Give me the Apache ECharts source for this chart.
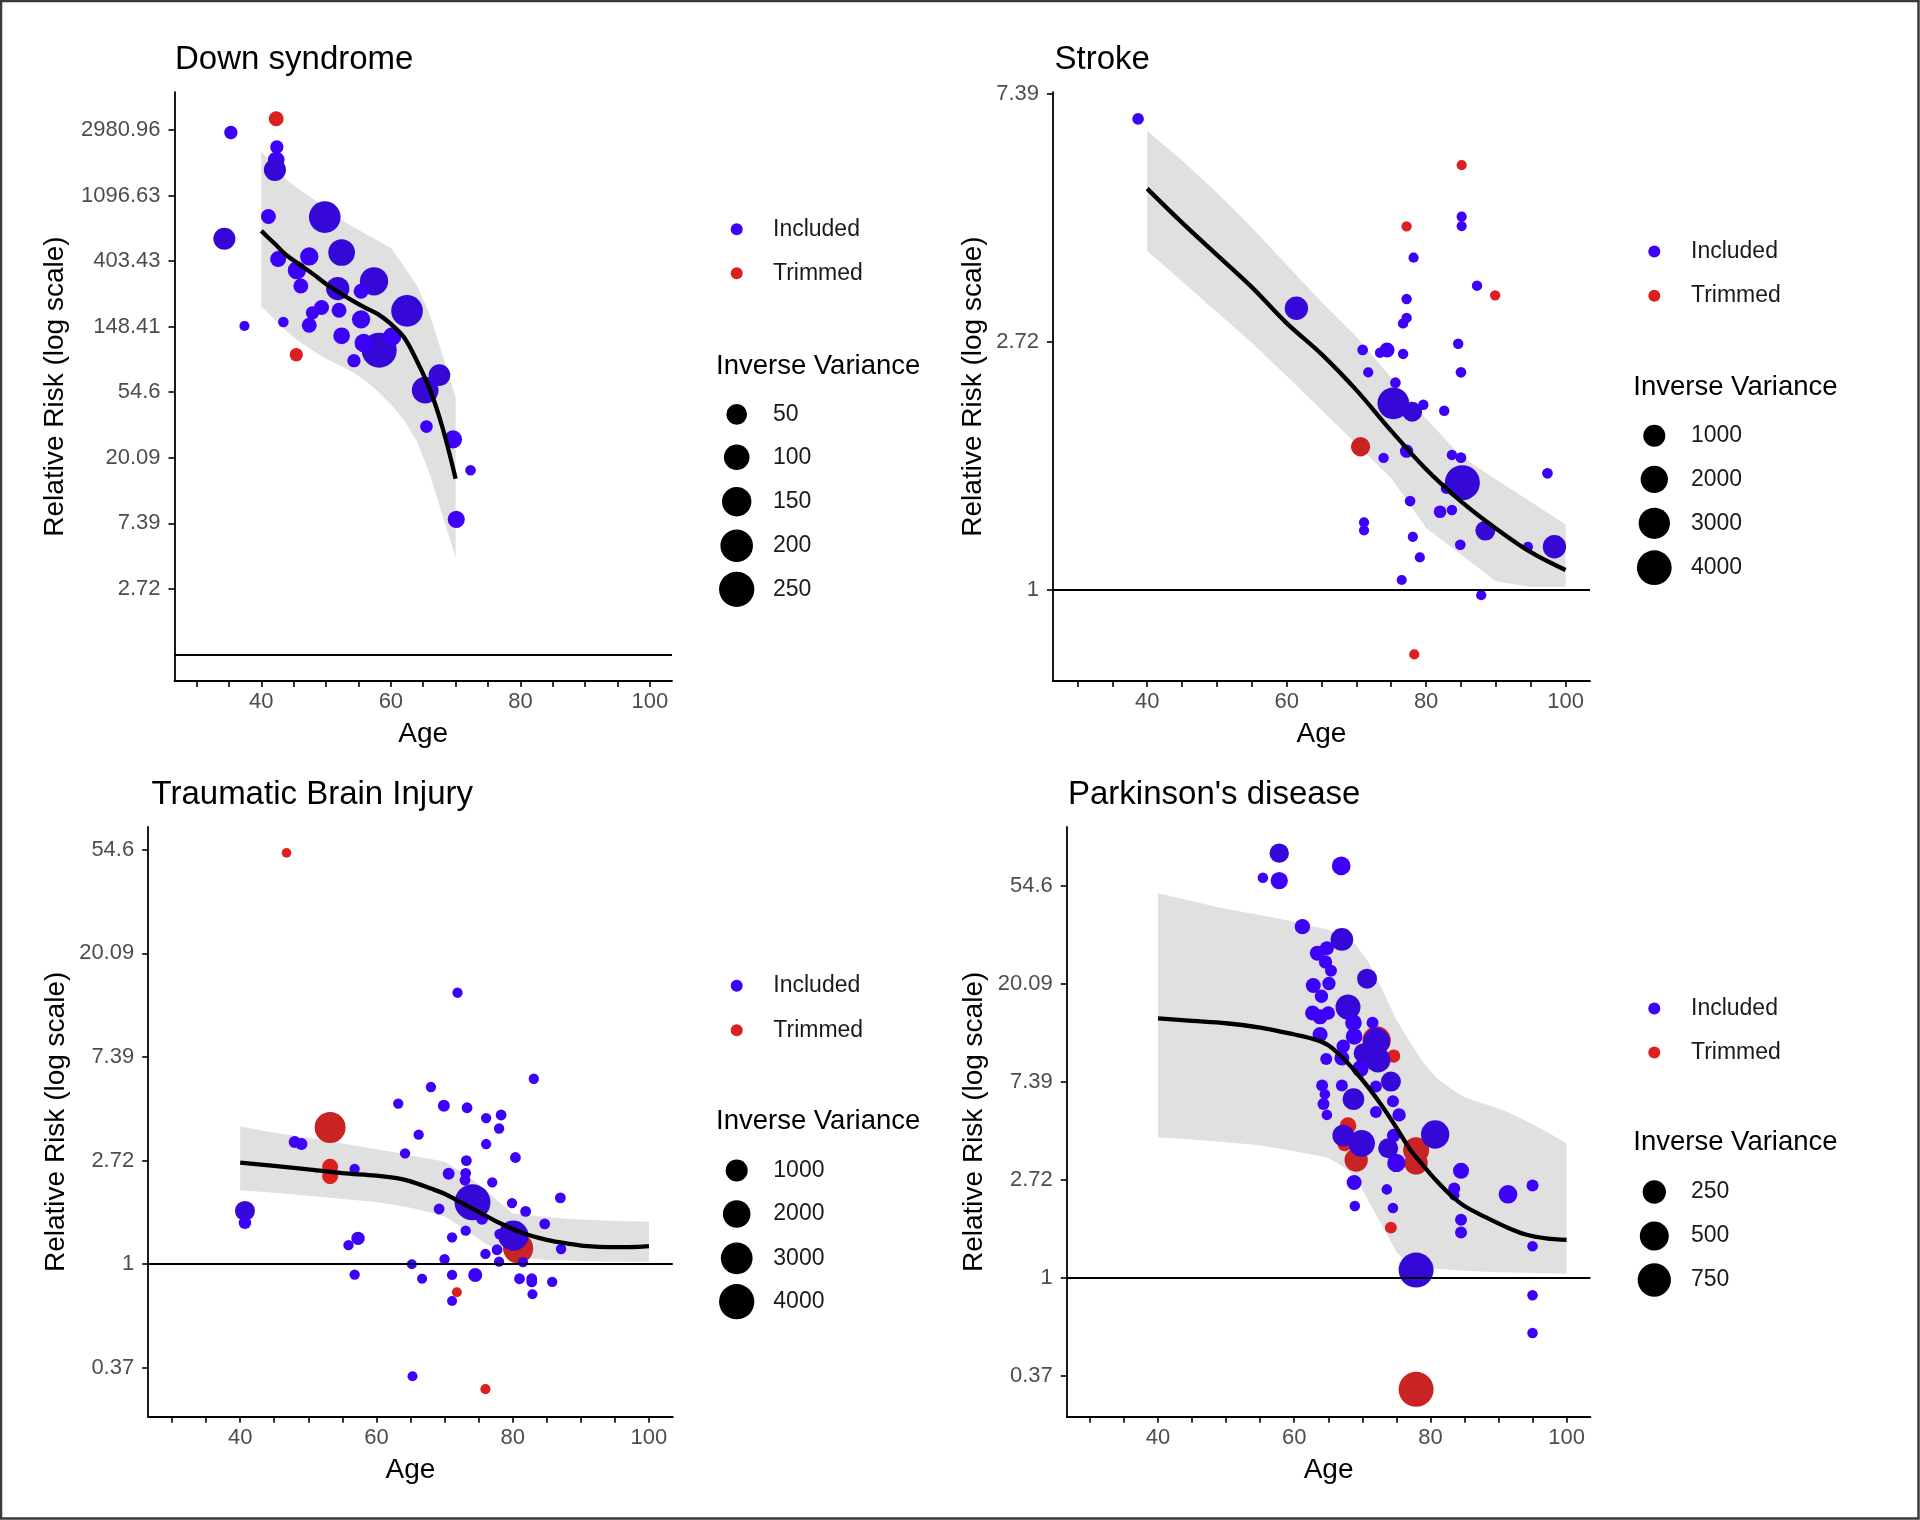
<!DOCTYPE html>
<html>
<head>
<meta charset="utf-8">
<script src="https://cdn.jsdelivr.net/npm/echarts@6/dist/echarts.min.js"></script>
<style>html,body{margin:0;padding:0;background:#fff}#c{width:1920px;height:1520px}</style>
</head>
<body>
<div id="c"></div>
<script>
// ---------------- DATA (age, ln(relative risk), inverse variance) ----------------
const ageTicks = [30,35,40,45,50,55,60,65,70,75,80,85,90,95,100];
const ageLabels = [40,60,80,100];

// Down syndrome
const downLogTicks = [1,2,3,4,5,6,7,8];
const downIncluded = [[35.3,7.96,7],[42.4,7.74,7],[42.3,7.54,22],[42.1,7.39,62],[41.1,6.68,13],[34.3,6.34,62],[49.8,6.67,186],[52.4,6.13,113],[42.6,6.03,18],[47.4,6.07,32],[45.5,5.86,32],[46.1,5.62,13],[51.8,5.58,74],[57.4,5.69,135],[55.4,5.54,13],[52.0,5.25,13],[49.3,5.29,13],[47.9,5.21,7],[47.4,5.02,13],[43.4,5.07,1],[37.4,5.01,0.5],[62.5,5.24,186],[55.4,5.11,32],[52.4,4.86,22],[58.2,4.64,244],[55.8,4.75,32],[60.2,4.85,32],[54.3,4.48,7],[67.5,4.26,58],[65.3,4.03,113],[65.5,3.475,5],[69.6,3.28,30],[72.3,2.81,1],[70.1,2.06,24]];
const downTrimmed = [[42.3,8.17,13],[45.4,4.57,7]];
const downFitAge = [40,42,44,46,48,50,52,54,56,58,60,62,64,66,68,70];
const downFit   = [6.46,6.27,6.08,5.94,5.80,5.65,5.52,5.40,5.29,5.19,5.04,4.84,4.48,4.05,3.45,2.68];
const downUpper = [7.67,7.45,7.23,7.08,6.95,6.79,6.65,6.53,6.42,6.31,6.20,5.92,5.63,5.19,4.56,3.92];
const downLower = [5.31,5.11,4.92,4.76,4.63,4.51,4.41,4.31,4.18,4.01,3.81,3.58,3.25,2.75,2.11,1.48];
const downSizeBreaks = [50,100,150,200,250];

// Stroke
const strokeLogTicks = [0,1,2];
const strokeIncluded = [[61.4,1.135,1213],[85.1,1.504,5],[85.1,1.466,5],[78.2,1.339,5],[87.3,1.226,8],[77.2,1.172,8],[77.2,1.096,8],[76.7,1.074,8],[84.6,0.992,8],[70.9,0.967,12],[74.4,0.967,200],[73.4,0.956,8],[76.7,0.951,8],[71.7,0.877,5],[85.0,0.877,12],[75.6,0.835,12],[75.3,0.752,3100],[78.0,0.718,700],[79.6,0.746,8],[82.6,0.722,8],[73.9,0.532,8],[77.2,0.559,100],[83.7,0.544,8],[85.0,0.533,12],[82.9,0.409,20],[85.2,0.432,4090],[97.4,0.470,12],[77.7,0.358,12],[82.0,0.315,70],[83.7,0.322,8],[88.5,0.239,700],[71.1,0.272,5],[71.1,0.240,5],[78.1,0.214,5],[84.9,0.182,12],[94.6,0.174,5],[98.4,0.174,1213],[79.1,0.131,5],[76.5,0.040,5],[87.9,-0.021,5],[38.7,1.898,33]];
const strokeTrimmed = [[85.1,1.712,5],[77.2,1.465,8],[89.9,1.187,8],[70.6,0.577,620],[78.3,-0.260,5]];
const strokeFitAge = [40,45,50,55,60,65,70,75,80,85,90,95,100];
const strokeFit   = [1.617,1.48,1.35,1.22,1.075,0.95,0.805,0.641,0.486,0.357,0.248,0.152,0.080];
const strokeUpper = [1.850,1.73,1.60,1.46,1.31,1.16,1.02,0.855,0.69,0.54,0.445,0.355,0.264];
const strokeLower = [1.367,1.243,1.12,0.996,0.862,0.725,0.588,0.45,0.25,0.143,0.035,0.012,0.012];
const strokeSizeBreaks = [1000,2000,3000,4000];

// Traumatic Brain Injury
const tbiLogTicks = [-1,0,1,2,3,4];
const tbiIncluded = [[71.9,2.62,15],[83.1,1.79,15],[68.0,1.71,15],[63.2,1.55,15],[69.9,1.53,60],[73.3,1.51,25],[76.1,1.41,15],[78.3,1.44,25],[78.0,1.31,15],[66.2,1.25,15],[48.0,1.18,60],[49.0,1.16,60],[76.1,1.16,15],[64.2,1.07,15],[80.4,1.03,25],[73.2,1.00,25],[56.8,0.92,15],[70.6,0.874,60],[73.1,0.877,25],[73.0,0.81,25],[77.0,0.79,15],[87.0,0.64,25],[69.2,0.533,25],[79.9,0.59,15],[81.9,0.51,25],[75.5,0.44,60],[84.7,0.39,25],[73.1,0.324,15],[71.1,0.26,15],[78.1,0.291,25],[77.7,0.14,25],[87.1,0.147,15],[76.0,0.10,15],[70.0,0.048,15],[65.2,0.0,10],[78.0,0.025,15],[81.5,0.02,15],[74.5,-0.103,160],[71.1,-0.103,15],[66.7,-0.14,10],[81.0,-0.14,25],[82.8,-0.14,25],[82.8,-0.17,25],[85.8,-0.17,15],[82.9,-0.29,10],[71.1,-0.355,10],[65.3,-1.08,10],[40.7,0.515,720],[40.7,0.40,80],[55.9,0.184,15],[57.3,0.25,125],[56.8,-0.10,15],[74.1,0.598,4200],[80.1,0.276,2600]];
const tbiTrimmed = [[46.8,3.97,5],[53.2,1.32,2800],[53.2,0.94,300],[53.2,0.85,300],[80.8,0.154,2600],[71.8,-0.27,10],[76.0,-1.205,10]];
const tbiFitAge = [40,45,50,55,60,63,65,68,70,72,74,76,78,80,82,85,88,91,94,97,100];
const tbiFit   = [0.98,0.95,0.915,0.88,0.855,0.83,0.80,0.73,0.68,0.61,0.54,0.47,0.40,0.34,0.29,0.235,0.20,0.175,0.165,0.165,0.174];
const tbiUpper = [1.33,1.27,1.22,1.165,1.11,1.075,1.05,1.015,0.99,0.91,0.82,0.72,0.60,0.49,0.475,0.455,0.44,0.43,0.42,0.415,0.41];
const tbiLower = [0.713,0.69,0.66,0.63,0.60,0.57,0.545,0.50,0.46,0.38,0.29,0.20,0.13,0.09,0.06,0.041,0.035,0.03,0.027,0.025,0.025];
const tbiSizeBreaks = [1000,2000,3000,4000];

// Parkinson's disease
const pdLogTicks = [-1,0,1,2,3,4];
const pdIncluded = [[57.8,4.33,125],[66.9,4.20,108],[55.4,4.08,1],[57.8,4.05,78],[61.2,3.58,43],[67.0,3.45,226],[63.4,3.31,38],[64.8,3.36,25],[64.6,3.22,18],[65.4,3.13,7],[70.7,3.05,143],[62.8,2.98,38],[65.1,3.00,18],[64.0,2.87,18],[67.9,2.76,315],[62.7,2.70,38],[65.0,2.70,18],[63.8,2.66,38],[68.7,2.60,65],[71.5,2.60,7],[63.8,2.48,38],[68.8,2.46,65],[72.1,2.41,388],[67.2,2.36,18],[70.2,2.29,143],[72.3,2.22,315],[67.0,2.24,38],[64.7,2.23,7],[69.7,2.13,65],[74.2,2.00,143],[64.1,1.96,7],[67.0,1.96,7],[72.0,1.95,7],[64.5,1.87,1],[68.7,1.82,193],[64.3,1.77,7],[74.5,1.80,7],[72.0,1.69,7],[64.8,1.66,1],[75.4,1.66,18],[67.2,1.45,193],[69.9,1.37,388],[74.6,1.45,18],[73.8,1.32,143],[75.0,1.17,100],[80.7,1.46,467],[84.5,1.09,53],[91.4,0.85,108],[95.0,0.94,7],[83.5,0.91,7],[83.5,0.84,1],[68.8,0.97,38],[73.6,0.90,1],[68.9,0.73,1],[74.5,0.71,1],[84.5,0.59,7],[84.5,0.46,7],[95.0,0.32,1],[77.9,0.077,861],[95.0,-0.18,1],[95.0,-0.565,1]];
const pdTrimmed = [[72.1,2.42,467],[74.6,2.26,18],[67.9,1.55,65],[67.4,1.36,25],[69.1,1.20,250],[77.9,1.30,357],[77.9,1.17,250],[74.2,0.51,7],[77.9,-1.14,861]];
const pdFitAge = [40,45,50,55,60,63,65,67,69,71,73,75,77,79,81,83,85,88,91,94,97,100];
const pdFit   = [2.645,2.62,2.595,2.55,2.48,2.43,2.37,2.25,2.10,1.93,1.74,1.53,1.31,1.14,0.98,0.84,0.73,0.62,0.52,0.44,0.40,0.385];
const pdUpper = [3.92,3.84,3.76,3.70,3.63,3.58,3.55,3.48,3.40,3.21,2.93,2.63,2.40,2.19,2.03,1.93,1.84,1.77,1.70,1.60,1.49,1.37];
const pdLower = [1.43,1.41,1.38,1.35,1.29,1.25,1.22,1.14,1.03,0.77,0.52,0.26,0.13,0.10,0.09,0.08,0.07,0.06,0.055,0.05,0.045,0.04];
const pdSizeBreaks = [250,500,750];

const panelTitles = ['Down syndrome','Stroke','Traumatic Brain Injury',"Parkinson's disease"];

// ---------------- LAYOUT / STYLE ----------------
const FONT = "'Liberation Sans', Arial, sans-serif";
const panels = [
  {title:panelTitles[0], inc:downIncluded, trim:downTrimmed, fitAge:downFitAge, fit:downFit, up:downUpper, lo:downLower, yTicks:downLogTicks, breaks:downSizeBreaks,
   grid:{left:174.5, top:92.1, width:497.5, height:588.9}, x:[26.6,103.4], y:[-0.405,8.576], nameGap:105,
   size:w=>8.9+1.67*Math.sqrt(w), titlePos:[175,43],
   leg:{cx:736.7, tx:773, inc:226.7, trim:270.7, tl:716, tt:352, sy:[413.3,457.3,501.7,545.7,589.3]}},
  {title:panelTitles[1], inc:strokeIncluded, trim:strokeTrimmed, fitAge:strokeFitAge, fit:strokeFit, up:strokeUpper, lo:strokeLower, yTicks:strokeLogTicks, breaks:strokeSizeBreaks,
   grid:{left:1053, top:92.1, width:537, height:588.9}, x:[26.5,103.5], y:[-0.367,2.006], nameGap:65.5,
   size:w=>9.3+0.402*Math.sqrt(w), titlePos:[1054.5,43],
   leg:{cx:1654.3, tx:1691, inc:249, trim:293.3, tl:1633.3, tt:373, sy:[435.3,479.3,523.3,567.7]}},
  {title:panelTitles[2], inc:tbiIncluded, trim:tbiTrimmed, fitAge:tbiFitAge, fit:tbiFit, up:tbiUpper, lo:tbiLower, yTicks:tbiLogTicks, breaks:tbiSizeBreaks,
   grid:{left:148.2, top:826.9, width:524.6, height:589.9}, x:[26.5,103.5], y:[-1.472,4.22], nameGap:78,
   size:w=>8.7+0.421*Math.sqrt(w), titlePos:[151.5,778],
   leg:{cx:736.7, tx:773.3, inc:983.3, trim:1027.7, tl:716, tt:1107.5, sy:[1170,1214,1258.3,1301.7]}},
  {title:panelTitles[3], inc:pdIncluded, trim:pdTrimmed, fitAge:pdFitAge, fit:pdFit, up:pdUpper, lo:pdLower, yTicks:pdLogTicks, breaks:pdSizeBreaks,
   grid:{left:1066.8, top:826.9, width:523.6, height:589.9}, x:[26.6,103.5], y:[-1.42,4.598], nameGap:79,
   size:w=>9.7+0.862*Math.sqrt(w), titlePos:[1068,778],
   leg:{cx:1654.3, tx:1691, inc:1006, trim:1050, tl:1633.3, tt:1128.5, sy:[1192,1236,1280]}}
];

const BLUE = '#3d00fa', BLUE_BIG = '#3608d8', RED = '#dc1f1f', RED_BIG = '#c92323';
const fmtExp = v => String(Number(Math.exp(v).toFixed(2)));

const grids = [], xAxes = [], yAxes = [], series = [], titles = [], legends = [];
const dummyNames = new Set();

panels.forEach((p, i) => {
  grids.push(Object.assign({}, p.grid));
  xAxes.push({
    type:'value', gridIndex:i, min:p.x[0], max:p.x[1],
    name:'Age', nameLocation:'middle', nameGap:39,
    nameTextStyle:{fontSize:28, color:'#000', fontFamily:FONT},
    axisLine:{show:true, onZero:false, lineStyle:{color:'#000', width:1.8}},
    axisTick:{show:true, length:6, customValues:ageTicks, lineStyle:{color:'#000', width:1.6}},
    axisLabel:{show:true, customValues:ageLabels, margin:10, fontSize:22, color:'#4d4d4d', fontFamily:FONT},
    splitLine:{show:false}
  });
  yAxes.push({
    type:'value', gridIndex:i, min:p.y[0], max:p.y[1],
    name:'Relative Risk (log scale)', nameLocation:'middle', nameGap:p.nameGap,
    nameTextStyle:{fontSize:28, color:'#000', fontFamily:FONT},
    axisLine:{show:true, onZero:false, lineStyle:{color:'#000', width:1.8}},
    axisTick:{show:true, length:6, customValues:p.yTicks, lineStyle:{color:'#000', width:1.6}},
    axisLabel:{show:true, customValues:p.yTicks, margin:14, fontSize:22, color:'#4d4d4d', fontFamily:FONT, formatter:fmtExp},
    splitLine:{show:false}
  });

  // confidence band
  const ages = p.fitAge, lo = p.lo, up = p.up;
  series.push({
    type:'custom', xAxisIndex:i, yAxisIndex:i, silent:true, z:1,
    data: ages.map((a,k)=>[a, lo[k], up[k]]),
    encode:{x:0, y:[1,2]},
    renderItem:function(params, api){
      if (params.dataIndex !== 0) return null;
      const pts = [];
      for (let k=0;k<ages.length;k++) pts.push(api.coord([ages[k], up[k]]));
      for (let k=ages.length-1;k>=0;k--) pts.push(api.coord([ages[k], lo[k]]));
      return {type:'polygon', shape:{points:pts}, style:{fill:'#e0e0e0'}};
    }
  });

  const sz = p.size;
  // trimmed points (below included)
  series.push({
    type:'scatter', name:'Trimmed', xAxisIndex:i, yAxisIndex:i, z:2, silent:true,
    data:p.trim, symbol:'circle', symbolSize:v=>sz(v[2]),
    itemStyle:{color:prm=> sz(prm.value[2])>19 ? RED_BIG : RED, opacity:1}
  });
  // included points
  series.push({
    type:'scatter', name:'Included', xAxisIndex:i, yAxisIndex:i, z:3, silent:true,
    data:p.inc, symbol:'circle', symbolSize:v=>sz(v[2]),
    itemStyle:{color:prm=> sz(prm.value[2])>19 ? BLUE_BIG : BLUE, opacity:1}
  });
  // fitted curve + reference line at RR = 1
  series.push({
    type:'line', xAxisIndex:i, yAxisIndex:i, z:4, silent:true,
    data: ages.map((a,k)=>[a, p.fit[k]]),
    symbol:'none', showSymbol:false, smooth:0.35,
    lineStyle:{color:'#000', width:4.3},
    markLine:{silent:true, symbol:['none','none'], label:{show:false},
      lineStyle:{color:'#000', width:1.8, type:'solid'}, emphasis:{disabled:true},
      data:[{yAxis:0}]}
  });

  // titles
  titles.push({text:p.title, left:p.titlePos[0], top:p.titlePos[1], padding:0,
    textStyle:{fontSize:33, fontWeight:'normal', color:'#000', fontFamily:FONT}});
  titles.push({text:'Inverse Variance', left:p.leg.tl, top:p.leg.tt, padding:0,
    textStyle:{fontSize:27.5, fontWeight:'normal', color:'#000', fontFamily:FONT}});

  // legends: circle centred at cx, label starting at tx
  const L = p.leg;
  const w = 2*(L.tx - 5 - L.cx);
  const mkLegend = (name, cy, d, color) => ({
    data:[{name:name, icon:'circle', itemStyle:{color:color, opacity:1}}],
    orient:'vertical', left:L.cx - d/2, top: d < 20 ? cy - 9 : cy - d/2, padding:0,
    itemWidth:w, itemHeight:d, selectedMode:false,
    itemStyle:{opacity:1},
    textStyle:{fontSize:23, color:'#1a1a1a', fontFamily:FONT}
  });
  legends.push(mkLegend('Included', L.inc, 12, BLUE));
  legends.push(mkLegend('Trimmed', L.trim, 12, RED));
  p.breaks.forEach((b, k) => {
    dummyNames.add(String(b));
    legends.push(mkLegend(String(b), L.sy[k], sz(b), '#000000'));
  });
});

dummyNames.forEach(n => {
  series.push({type:'scatter', name:n, xAxisIndex:0, yAxisIndex:0, data:[], itemStyle:{color:'#000000', opacity:1}});
});

const option = {
  animation:false,
  backgroundColor:'#ffffff',
  grid:grids, xAxis:xAxes, yAxis:yAxes, series:series, title:titles, legend:legends,
  graphic:[{type:'rect', silent:true, z:100, shape:{x:1, y:1, width:1917.5, height:1517.5},
    style:{fill:'none', stroke:'#3a3a3a', lineWidth:2.5}}]
};

const chart = echarts.init(document.getElementById('c'), null, {renderer:'canvas', width:1920, height:1520});
chart.setOption(option);
</script>
</body>
</html>
